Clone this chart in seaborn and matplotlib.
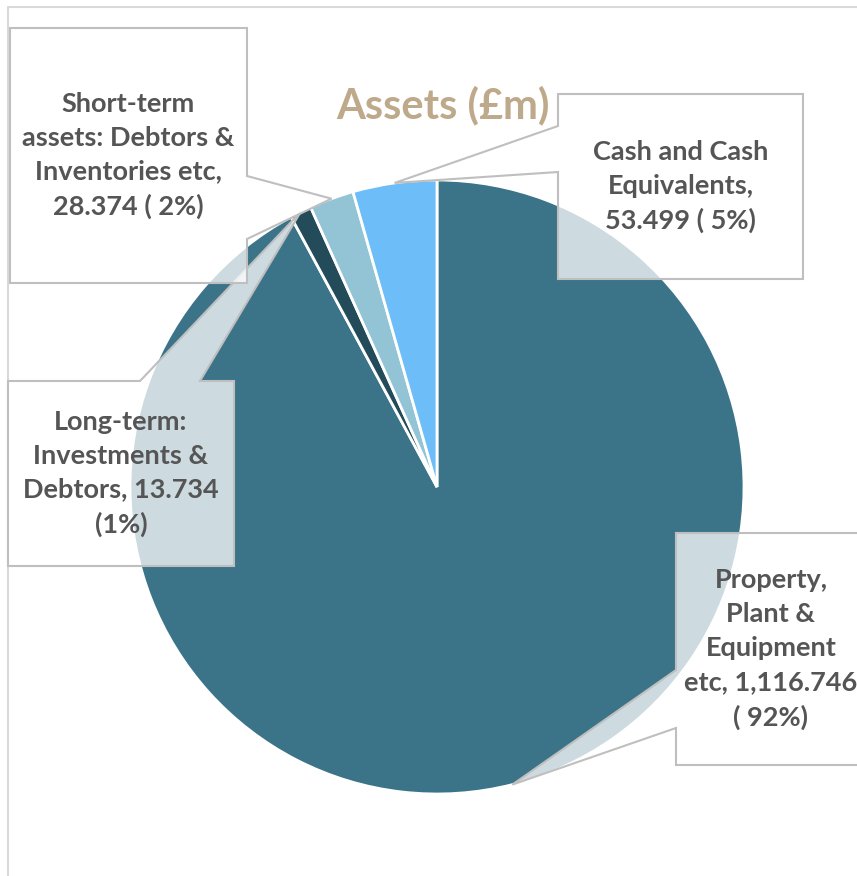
import numpy as np
import seaborn as sns
import matplotlib.pyplot as plt
from matplotlib.patches import Polygon

# data
categories = ["Property, Plant & Equipment etc", "Long-term: Investments & Debtors",
              "Short-term assets: Debtors & Inventories etc", "Cash and Cash Equivalents"]
values = [1116.746, 13.734, 28.374, 53.499]
labels = ["Property,\nPlant &\nEquipment\netc, 1,116.746\n( 92%)",
          "Long-term:\nInvestments &\nDebtors, 13.734\n(1%)",
          "Short-term\nassets: Debtors &\nInventories etc,\n28.374 ( 2%)",
          "Cash and Cash\nEquivalents,\n53.499 ( 5%)"]
colors = ["#3B7489", "#234B5A", "#93C4D5", "#6DBDF9"]

# callout boxes in pixel coords (left, top, right, bottom), side of pointer, pointer base
callouts = [((676, 533, 866, 765), "left", (670, 728)),
            ((8, 381, 234, 566), "top", (140, 200)),
            ((10, 28, 247, 283), "right", (176, 239)),
            ((558, 94, 803, 279), "left", (126, 172))]

W, H = 857, 876
sns.set_theme(style="white")
plt.rcParams['font.family'] = ['Lato', 'DejaVu Sans']

fig = plt.figure(figsize=(W / 100, H / 100), dpi=100)
ax = fig.add_axes([0, 0, 1, 1])

cx, cy, r = 437, H - 487, 307
wedges, _ = ax.pie(values, colors=colors, startangle=90, counterclock=False,
                   center=(cx, cy), radius=r, frame=True,
                   wedgeprops=dict(edgecolor='white', linewidth=2))
ax.set_xlim(0, W)
ax.set_ylim(0, H)
ax.axis('off')

# chart frame (top and left visible)
ax.plot([8, W], [H - 7, H - 7], color='#D9D9D9', lw=1.5, clip_on=False)
ax.plot([8, 8], [H - 7, 0], color='#D9D9D9', lw=1.5, clip_on=False)

for w, lab, (box, side, base) in zip(wedges, labels, callouts):
    ang = np.deg2rad((w.theta1 + w.theta2) / 2)
    tip = (cx + r * np.cos(ang), cy + r * np.sin(ang))
    L, T, R, B = box
    T, B = H - T, H - B
    if side == "right":
        y1, y2 = H - base[0], H - base[1]
        pts = [(L, T), (R, T), (R, y1), tip, (R, y2), (R, B), (L, B)]
    elif side == "left":
        y1, y2 = H - base[0], H - base[1]
        pts = [(L, T), (R, T), (R, B), (L, B), (L, y2), tip, (L, y1)]
    else:
        x1, x2 = base
        pts = [(L, T), (x1, T), tip, (x2, T), (R, T), (R, B), (L, B)]
    ax.add_patch(Polygon(pts, closed=True, facecolor=(1, 1, 1, 0.75),
                         edgecolor='#BFBFBF', lw=1.5, zorder=5))
    ax.text((L + R) / 2, (T + B) / 2, lab, ha='center', va='center', fontsize=19.5,
            fontweight='bold', color='#555555', linespacing=1.5, zorder=6)

ax.text(443, H - 105, "Assets (£m)", ha='center', va='center', fontsize=30,
        fontweight='bold', color='#BFA98B', zorder=6)

fig.savefig("out.png", dpi=100)
